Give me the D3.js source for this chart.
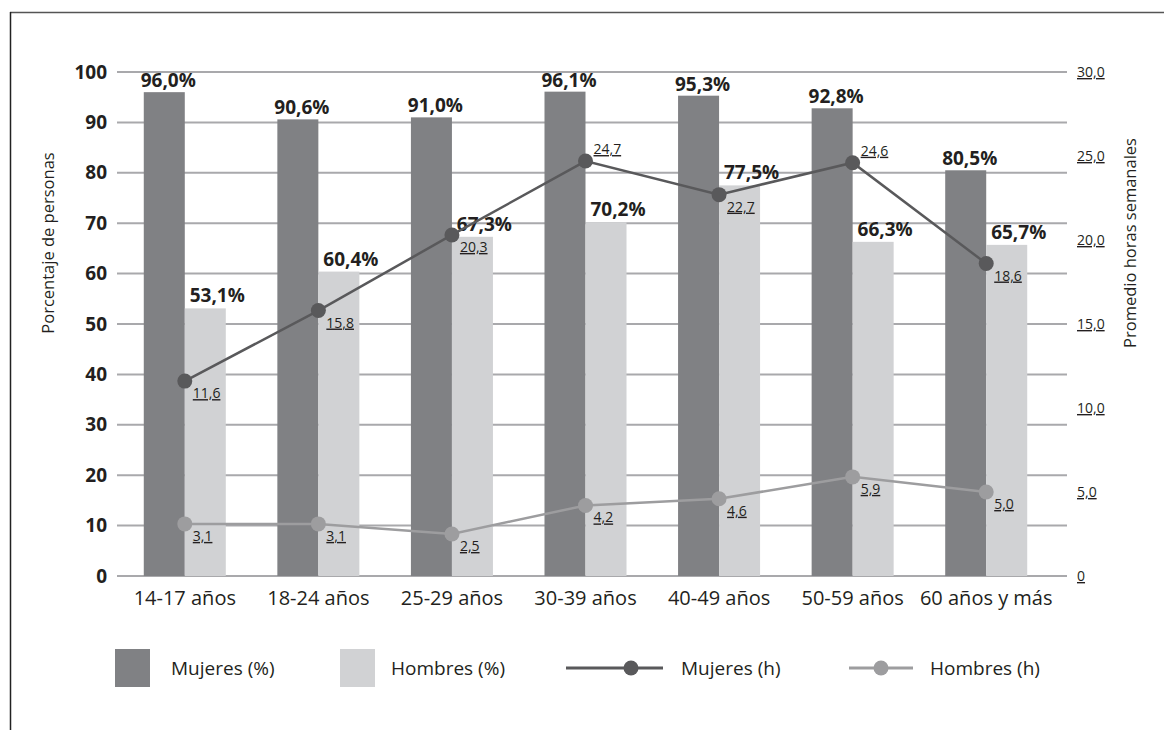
<!DOCTYPE html>
<html>
<head>
<meta charset="utf-8">
<script src="https://cdn.jsdelivr.net/npm/d3@7"></script>
<style>
  html, body { margin: 0; padding: 0; background: #fff; }
  svg { display: block; font-family: "Open Sans", "Noto Sans", sans-serif; }
</style>
</head>
<body>
<svg id="chart" width="1164" height="730"></svg>
<script>
// Grupos de edad
const categories = ["14-17 años", "18-24 años", "25-29 años", "30-39 años", "40-49 años", "50-59 años", "60 años y más"];
// Porcentaje de personas que realizan la actividad
const mujeresPct = [96.0, 90.6, 91.0, 96.1, 95.3, 92.8, 80.5];
const hombresPct = [53.1, 60.4, 67.3, 70.2, 77.5, 66.3, 65.7];
// Promedio de horas semanales
const mujeresHoras = [11.6, 15.8, 20.3, 24.7, 22.7, 24.6, 18.6];
const hombresHoras = [3.1, 3.1, 2.5, 4.2, 4.6, 5.9, 5.0];
// Ejes
const leftTicks = [0, 10, 20, 30, 40, 50, 60, 70, 80, 90, 100];
const rightTicks = [0, 5, 10, 15, 20, 25, 30];
// Posición de la etiqueta de horas (arriba/abajo del punto)
const mujeresHorasAbove = [false, false, false, true, false, true, false];

const colors = {
  mujBar: "#808184",
  homBar: "#d1d2d4",
  mujLine: "#59595b",
  homLine: "#9d9d9f",
  grid: "#a9a9ac",
  text: "#231f20"
};

const svg = d3.select("#chart");
const fmt = v => d3.format(".1f")(v).replace(".", ",");

// Marco
svg.append("line").attr("x1", 10).attr("x2", 1164).attr("y1", 12.5).attr("y2", 12.5)
  .attr("stroke", "#555").attr("stroke-width", 1.5);
svg.append("line").attr("x1", 10.5).attr("x2", 10.5).attr("y1", 12).attr("y2", 730)
  .attr("stroke", "#222").attr("stroke-width", 1.5);

const x = d3.scaleBand().domain(categories).range([118, 1053]).paddingInner(0.386).paddingOuter(0.193);
const xSub = d3.scaleBand().domain(["m", "h"]).range([0, x.bandwidth()]);
const yL = d3.scaleLinear().domain([0, 100]).range([576, 72]);
const yR = d3.scaleLinear().domain([0, 30]).range([576, 72]);

// Líneas de cuadrícula
svg.append("g").selectAll("line").data(leftTicks).join("line")
  .attr("x1", 117).attr("x2", 1067)
  .attr("y1", d => yL(d)).attr("y2", d => yL(d))
  .attr("stroke", colors.grid).attr("stroke-width", 2);

// Eje izquierdo
const axL = svg.append("g").attr("transform", "translate(107,0)")
  .call(d3.axisLeft(yL).tickValues(leftTicks).tickSize(0).tickPadding(0));
axL.select(".domain").remove();
axL.selectAll("text").attr("font-size", 19).attr("font-weight", 700)
  .attr("fill", colors.text).attr("font-family", "'Open Sans', sans-serif");

// Eje derecho
const axR = svg.append("g").attr("transform", "translate(1077,0)")
  .call(d3.axisRight(yR).tickValues(rightTicks).tickSize(0).tickPadding(0)
    .tickFormat(d => d === 0 ? "0" : fmt(d)));
axR.select(".domain").remove();
axR.selectAll("text").attr("font-size", 14).attr("fill", colors.text)
  .attr("text-decoration", "underline").attr("font-family", "'Open Sans', sans-serif");

// Eje de categorías
const axX = svg.append("g").attr("transform", "translate(0,586)")
  .call(d3.axisBottom(x).tickSize(0).tickPadding(0));
axX.select(".domain").remove();
axX.selectAll("text").attr("font-size", 20).attr("fill", colors.text)
  .attr("dy", "0.95em").attr("font-family", "'Open Sans', sans-serif");

// Títulos de ejes
svg.append("text").attr("transform", "translate(54,243) rotate(-90)")
  .attr("text-anchor", "middle").attr("font-size", 16.5)
  .attr("fill", colors.text).text("Porcentaje de personas");
svg.append("text").attr("transform", "translate(1136,243) rotate(-90)")
  .attr("text-anchor", "middle").attr("font-size", 16.5)
  .attr("fill", colors.text).text("Promedio horas semanales");

// Barras
const groups = svg.append("g").selectAll("g").data(categories).join("g")
  .attr("transform", d => `translate(${x(d)},0)`);

groups.append("rect")
  .attr("x", xSub("m")).attr("width", xSub.bandwidth())
  .attr("y", (d, i) => yL(mujeresPct[i])).attr("height", (d, i) => yL(0) - yL(mujeresPct[i]))
  .attr("fill", colors.mujBar);
groups.append("rect")
  .attr("x", xSub("h")).attr("width", xSub.bandwidth())
  .attr("y", (d, i) => yL(hombresPct[i])).attr("height", (d, i) => yL(0) - yL(hombresPct[i]))
  .attr("fill", colors.homBar);

// Etiquetas de porcentaje
groups.append("text")
  .attr("x", xSub("m") + xSub.bandwidth() / 2 + 4)
  .attr("y", (d, i) => yL(mujeresPct[i]) - 5)
  .attr("text-anchor", "middle").attr("font-size", 19).attr("font-weight", 700)
  .attr("fill", colors.text).text((d, i) => fmt(mujeresPct[i]) + "%");
groups.append("text")
  .attr("x", xSub("h") + xSub.bandwidth() / 2 + 12)
  .attr("y", (d, i) => yL(hombresPct[i]) - 6)
  .attr("text-anchor", "middle").attr("font-size", 19).attr("font-weight", 700)
  .attr("fill", colors.text).text((d, i) => fmt(hombresPct[i]) + "%");

// Líneas de horas
const cx = d => x(d) + x.bandwidth() / 2;
function drawSeries(values, color, above) {
  const pts = categories.map((c, i) => [cx(c), yR(values[i])]);
  svg.append("path").datum(pts)
    .attr("d", d3.line())
    .attr("fill", "none").attr("stroke", color).attr("stroke-width", 2.5);
  svg.append("g").selectAll("circle").data(pts).join("circle")
    .attr("cx", d => d[0]).attr("cy", d => d[1]).attr("r", 7.5).attr("fill", color);
  svg.append("g").selectAll("text").data(pts).join("text")
    .attr("x", d => d[0] + 8)
    .attr("y", (d, i) => above && above[i] ? d[1] - 7 : d[1] + 17)
    .attr("font-size", 14).attr("fill", colors.text)
    .attr("text-decoration", "underline")
    .text((d, i) => fmt(values[i]));
}
drawSeries(hombresHoras, colors.homLine, null);
drawSeries(mujeresHoras, colors.mujLine, mujeresHorasAbove);

// Leyenda
const legY = 668;
const leg = svg.append("g");
leg.append("rect").attr("x", 115).attr("y", legY - 19).attr("width", 35).attr("height", 38).attr("fill", colors.mujBar);
leg.append("text").attr("x", 171).attr("y", legY).attr("dy", "0.35em").attr("font-size", 19)
  .attr("fill", colors.text).text("Mujeres (%)");
leg.append("rect").attr("x", 340).attr("y", legY - 19).attr("width", 35).attr("height", 38).attr("fill", colors.homBar);
leg.append("text").attr("x", 391).attr("y", legY).attr("dy", "0.35em").attr("font-size", 19)
  .attr("fill", colors.text).text("Hombres (%)");

leg.append("line").attr("x1", 566).attr("x2", 663).attr("y1", legY).attr("y2", legY)
  .attr("stroke", colors.mujLine).attr("stroke-width", 3);
leg.append("circle").attr("cx", 631).attr("cy", legY).attr("r", 7.5).attr("fill", colors.mujLine);
leg.append("text").attr("x", 681).attr("y", legY).attr("dy", "0.35em").attr("font-size", 19)
  .attr("fill", colors.text).text("Mujeres (h)");

leg.append("line").attr("x1", 849).attr("x2", 913).attr("y1", legY).attr("y2", legY)
  .attr("stroke", colors.homLine).attr("stroke-width", 3);
leg.append("circle").attr("cx", 881).attr("cy", legY).attr("r", 7.5).attr("fill", colors.homLine);
leg.append("text").attr("x", 930).attr("y", legY).attr("dy", "0.35em").attr("font-size", 19)
  .attr("fill", colors.text).text("Hombres (h)");
</script>
</body>
</html>
